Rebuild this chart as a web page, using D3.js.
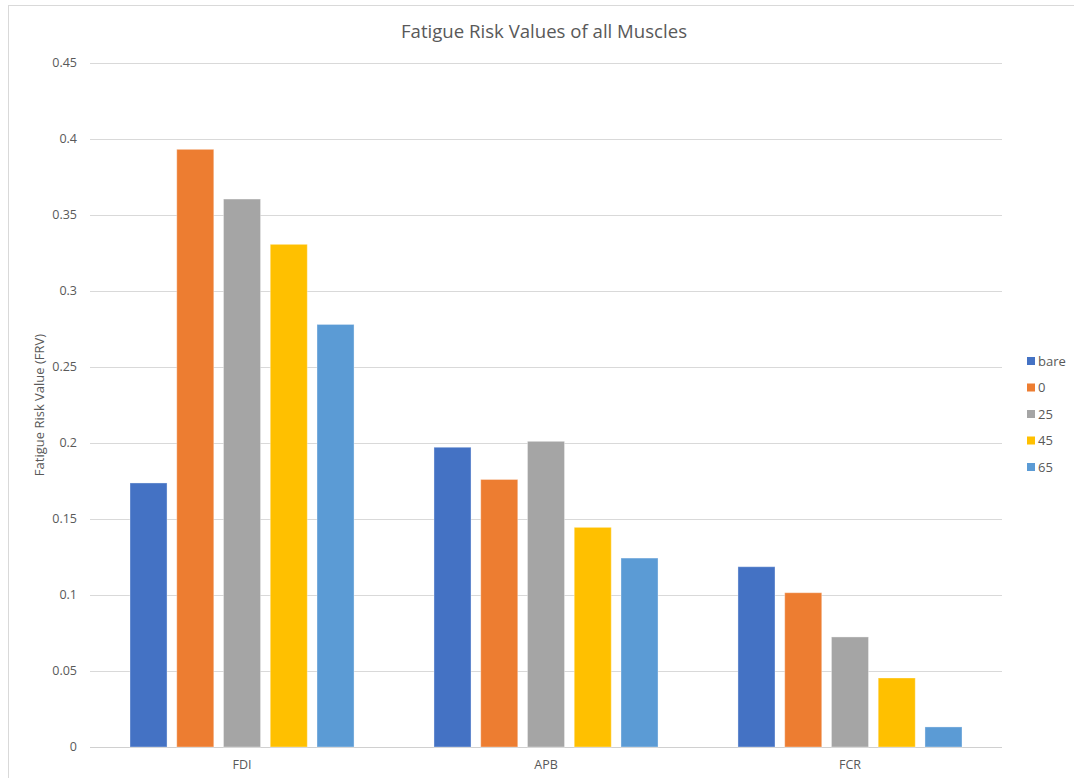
<!DOCTYPE html>
<html>
<head>
<meta charset="utf-8">
<script src="https://cdn.jsdelivr.net/npm/d3@7"></script>
<style>
  body { margin: 0; background: #fff; }
  text { font-family: "Open Sans", "Noto Sans", sans-serif; fill: #595959; }
</style>
</head>
<body>
<svg id="chart" width="1074" height="778"></svg>
<script>
// data
const muscles = ['FDI', 'APB', 'FCR']
const conditions = ['bare', '0', '25', '45', '65']
const frvBare = [0.1737, 0.1972, 0.1186]
const frv0 = [0.3932, 0.176, 0.1015]
const frv25 = [0.3605, 0.2011, 0.0724]
const frv45 = [0.3307, 0.1445, 0.0454]
const frv65 = [0.278, 0.1243, 0.0132]
const yTicks = [0, 0.05, 0.1, 0.15, 0.2, 0.25, 0.3, 0.35, 0.4, 0.45]
const colors = ['#4472c4', '#ed7d31', '#a5a5a5', '#ffc000', '#5b9bd5']

const width = 1074
const height = 778
const margin = { top: 63, right: 72, bottom: 31, left: 90 }

const seriesValues = [frvBare, frv0, frv25, frv45, frv65]
const data = muscles.map((m, i) => ({
  muscle: m,
  values: conditions.map((c, j) => ({ key: c, value: seriesValues[j][i] })),
}))

const svg = d3.select('#chart')

// chart area border
svg
  .append('rect')
  .attr('x', 8.5)
  .attr('y', 5.5)
  .attr('width', width + 10)
  .attr('height', height + 10)
  .attr('fill', '#fff')
  .attr('stroke', '#d9d9d9')

const x0 = d3
  .scaleBand()
  .domain(muscles)
  .range([margin.left, width - margin.right])
  .paddingInner(0.263)
  .paddingOuter(0.1316)

const x1 = d3
  .scaleBand()
  .domain(conditions)
  .range([0, x0.bandwidth()])
  .paddingInner(0.208)

const y = d3
  .scaleLinear()
  .domain([0, 0.45])
  .range([height - margin.bottom, margin.top])

// grid
svg
  .append('g')
  .attr('id', 'grid')
  .selectAll('line')
  .data(yTicks)
  .join('line')
  .attr('x1', margin.left)
  .attr('x2', width - margin.right)
  .attr('y1', (d) => Math.round(y(d)) + 0.5)
  .attr('y2', (d) => Math.round(y(d)) + 0.5)
  .attr('stroke', (d) => (d === 0 ? '#d0d0d0' : '#d9d9d9'))
  .attr('stroke-width', 1)

// y tick labels
svg
  .append('g')
  .attr('id', 'yAxis')
  .selectAll('text')
  .data(yTicks)
  .join('text')
  .attr('x', 77)
  .attr('y', (d) => y(d))
  .attr('dy', '0.35em')
  .attr('text-anchor', 'end')
  .style('font-size', '12.5px')
  .text((d) => d3.format('~g')(d))

// bars
const groups = svg
  .append('g')
  .attr('id', 'bars')
  .selectAll('g')
  .data(data)
  .join('g')
  .attr('transform', (d) => `translate(${x0(d.muscle)},0)`)

groups
  .selectAll('rect')
  .data((d) => d.values)
  .join('rect')
  .attr('x', (d) => x1(d.key))
  .attr('y', (d) => y(d.value))
  .attr('width', x1.bandwidth())
  .attr('height', (d) => y(0) - y(d.value))
  .attr('fill', (d, i) => colors[i])
  .attr('stroke', 'rgba(255,255,255,0.35)')
  .attr('stroke-width', 1)

// x labels
svg
  .append('g')
  .attr('id', 'xAxis')
  .selectAll('text')
  .data(muscles)
  .join('text')
  .attr('x', (d) => x0(d) + x0.bandwidth() / 2)
  .attr('y', height - margin.bottom + 22)
  .attr('text-anchor', 'middle')
  .style('font-size', '12.5px')
  .text((d) => d)

// title
svg
  .append('text')
  .attr('x', 544)
  .attr('y', 38)
  .attr('text-anchor', 'middle')
  .style('font-size', '18.6px')
  .text('Fatigue Risk Values of all Muscles')

// y axis title
svg
  .append('text')
  .attr('transform', `translate(44,${(y(0) + y(0.45)) / 2}) rotate(-90)`)
  .attr('text-anchor', 'middle')
  .style('font-size', '13px')
  .text('Fatigue Risk Value (FRV)')

// legend
const legend = svg
  .append('g')
  .attr('id', 'legend')
  .selectAll('g')
  .data(conditions)
  .join('g')
  .attr('transform', (d, i) => `translate(1027,${361 + i * 26.5})`)

legend
  .append('rect')
  .attr('x', 0)
  .attr('y', -4)
  .attr('width', 8)
  .attr('height', 8)
  .attr('fill', (d, i) => colors[i])

legend
  .append('text')
  .attr('x', 11)
  .attr('y', 0)
  .attr('dy', '0.35em')
  .style('font-size', '13px')
  .text((d) => d)
</script>
</body>
</html>
